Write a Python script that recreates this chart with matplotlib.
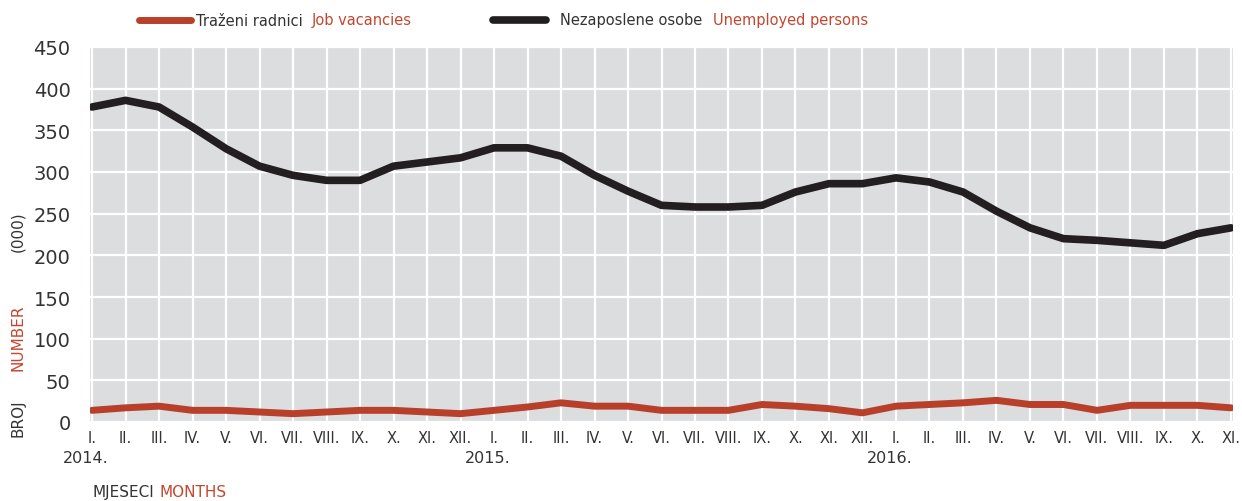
import matplotlib.pyplot as plt

# Mjeseci / months, 2014-01 .. 2016-11
months = ["I.", "II.", "III.", "IV.", "V.", "VI.", "VII.", "VIII.", "IX.", "X.", "XI.", "XII."]
month_labels = (months * 3)[:35]
years = ["2014.", "2015.", "2016."]

# Nezaposlene osobe (000)
unemployed = [378, 386, 378, 354, 328, 307, 296, 290, 290, 307, 312, 317,
              329, 329, 319, 296, 277, 260, 258, 258, 260, 276, 286, 286,
              293, 288, 276, 253, 233, 220, 218, 215, 212, 226, 233]
# Traženi radnici (000)
vacancies = [14, 17, 19, 14, 14, 12, 10, 12, 14, 14, 12, 10,
             14, 18, 23, 19, 19, 14, 14, 14, 21, 19, 16, 11,
             19, 21, 23, 26, 21, 21, 14, 20, 20, 20, 17]
yticks = [0, 50, 100, 150, 200, 250, 300, 350, 400, 450]

RED = "#b8402b"
TXT_RED = "#c4462f"
DARK = "#231f20"
GREY = "#333333"

fig = plt.figure(figsize=(12.42, 5.02), dpi=100)
ax = fig.add_axes([90 / 1242, 1 - 423 / 502, (1233 - 90) / 1242, (423 - 48) / 502])

x = list(range(len(month_labels)))
ax.set_facecolor("#dcdddf")
ax.plot(x, unemployed, color=DARK, lw=5.5, solid_capstyle="round", solid_joinstyle="round", zorder=3)
ax.plot(x, vacancies, color=RED, lw=5, solid_capstyle="round", solid_joinstyle="round", zorder=3)

ax.set_xlim(-0.06, 34.06)
ax.set_ylim(0, 450)
ax.set_xticks(x)
ax.set_xticklabels(month_labels, fontsize=10.5, color=GREY)
ax.set_yticks(yticks)
ax.set_yticklabels([str(v) for v in yticks], fontsize=14, color=GREY)
ax.tick_params(length=0)
ax.tick_params(axis="x", pad=6)
ax.tick_params(axis="y", pad=14)
ax.grid(True, color="white", lw=1.6)
ax.set_axisbelow(True)
for s in ax.spines.values():
    s.set_visible(False)

# godine ispod mjeseci
for i, yr in enumerate(years):
    ax.text(i * 12 - 0.2, -0.095, yr, transform=ax.get_xaxis_transform(),
            fontsize=11.5, color=GREY, ha="center", va="center")

# oznake osi
fig.text(18 / 1242, 1 - 418 / 502, "BROJ", rotation=90, fontsize=11, color=GREY, ha="center", va="center")
fig.text(18 / 1242, 1 - 338 / 502, "NUMBER", rotation=90, fontsize=11, color=TXT_RED, ha="center", va="center")
fig.text(18 / 1242, 1 - 232 / 502, "(000)", rotation=90, fontsize=11, color=GREY, ha="center", va="center")
fig.text(92 / 1242, 1 - 493 / 502, "MJESECI", fontsize=11, color=GREY, ha="left", va="center")
fig.text(159 / 1242, 1 - 493 / 502, "MONTHS", fontsize=11, color=TXT_RED, ha="left", va="center")

# legenda
ly = 1 - 21 / 502
fig.add_artist(plt.Line2D([139 / 1242, 191 / 1242], [ly, ly], color=RED, lw=5, solid_capstyle="round"))
fig.text(196 / 1242, ly, "Traženi radnici", fontsize=10.5, color=GREY, ha="left", va="center")
fig.text(312 / 1242, ly, "Job vacancies", fontsize=10.5, color=TXT_RED, ha="left", va="center")
fig.add_artist(plt.Line2D([493 / 1242, 546 / 1242], [ly, ly], color=DARK, lw=5.5, solid_capstyle="round"))
fig.text(560 / 1242, ly, "Nezaposlene osobe", fontsize=10.5, color=GREY, ha="left", va="center")
fig.text(713 / 1242, ly, "Unemployed persons", fontsize=10.5, color=TXT_RED, ha="left", va="center")

fig.savefig("out.png", dpi=100)
